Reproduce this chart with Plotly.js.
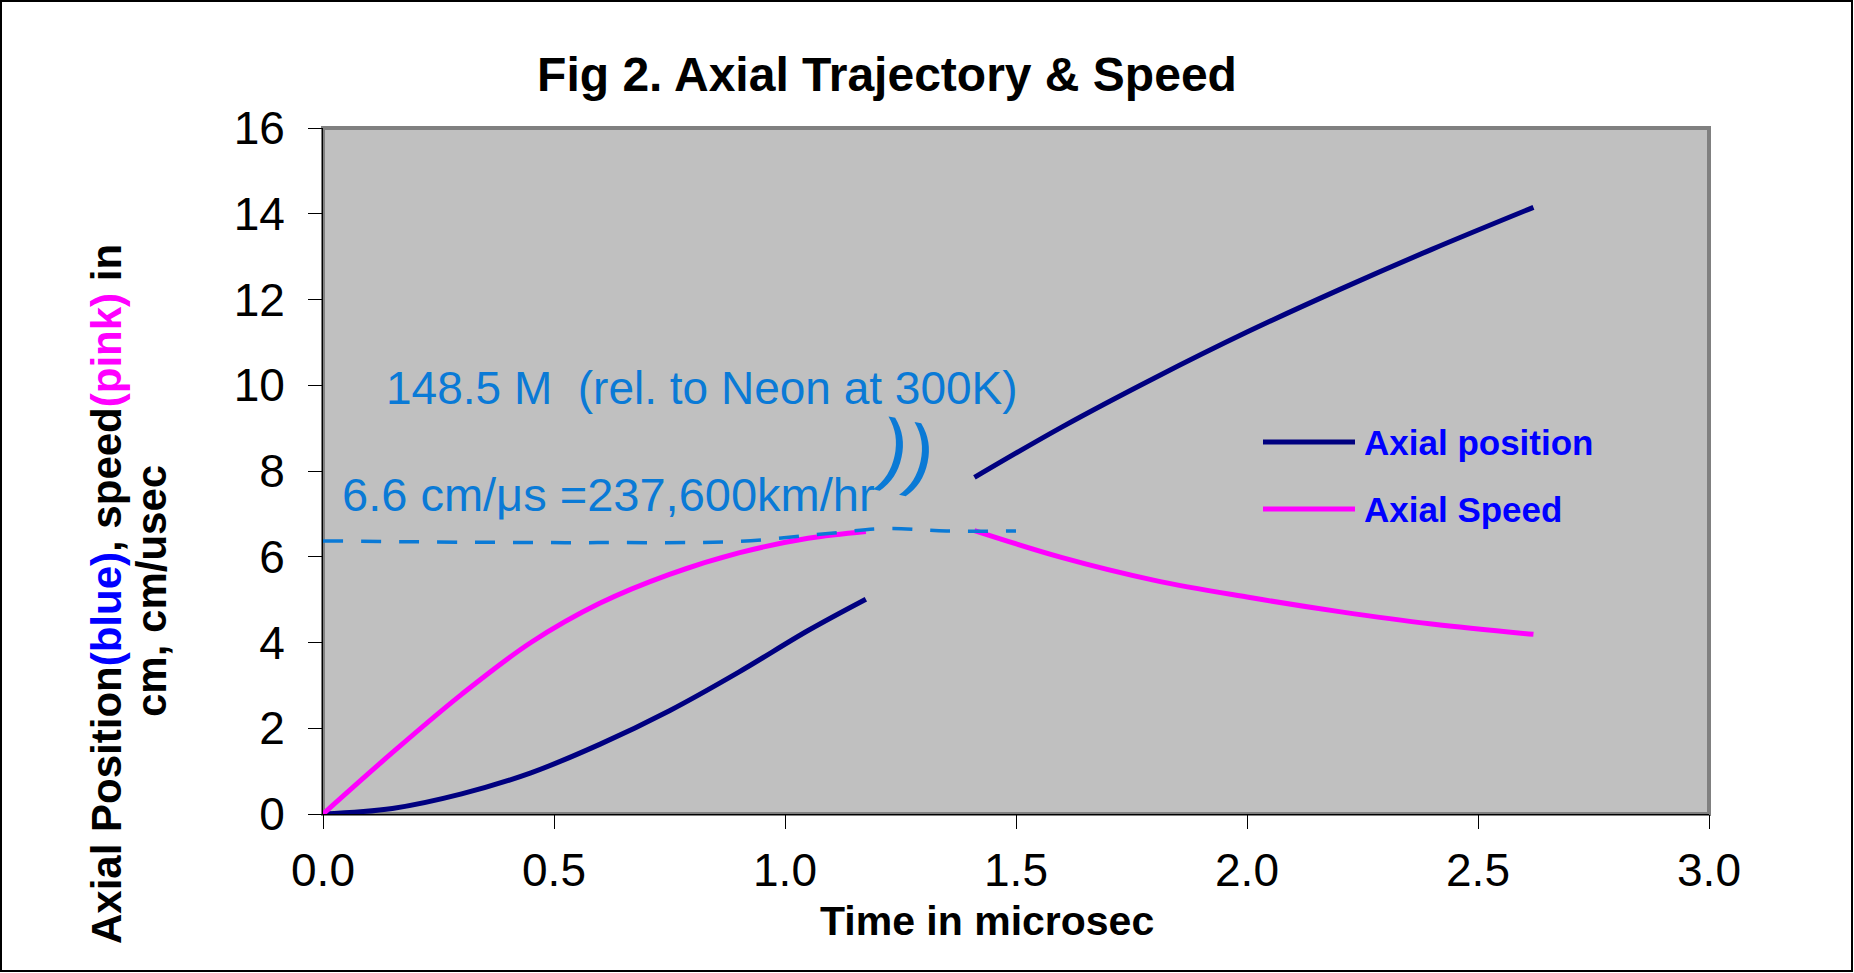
<!DOCTYPE html>
<html>
<head>
<meta charset="utf-8">
<script src="https://cdn.plot.ly/plotly-3.0.1.min.js"></script>
<style>
  body { margin: 0; background: #fff; }
  #fig2 { width: 1854px; height: 973px; }
</style>
</head>
<body>
<div id="fig2"></div>
<script>
// values (time in microsec, cm and cm/usec)
var timeA  = [0, 0.15, 0.3, 0.45, 0.6, 0.75, 0.9, 1.05, 1.175];
var posA   = [0, 0.13, 0.47, 0.96, 1.63, 2.41, 3.31, 4.28, 5.01];
var speedA = [0, 1.43, 2.79, 4.0, 4.92, 5.59, 6.09, 6.43, 6.59];

var timeB  = [1.41, 1.6, 1.8, 2.0, 2.2, 2.4, 2.62];
var posB   = [7.85, 9.03, 10.17, 11.24, 12.23, 13.17, 14.15];
var speedB = [6.61, 5.98, 5.45, 5.06, 4.72, 4.43, 4.19];

// hand drawn dashed mark at ~6.6 cm/usec
var inkT = [0, 0.3, 0.6, 0.9, 1.1, 1.22, 1.35, 1.5];
var inkV = [6.37, 6.34, 6.33, 6.36, 6.55, 6.66, 6.6, 6.6];

var seriesNames = ['Axial position', 'Axial Speed'];
var inkNotes = ['148.5 M  (rel. to Neon at 300K)', '6.6 cm/\u03bcs =237,600km/hr', '))'];

var xTicks = [0, 0.5, 1.0, 1.5, 2.0, 2.5, 3.0];
var yTicks = [0, 2, 4, 6, 8, 10, 12, 14, 16];

var navy = '#000080', pink = '#FF00FF', ink = '#0A7AD6';
var arial = 'Liberation Sans, Arial, sans-serif';

function segTrace(x, y, name, color) {
  return {
    x: x, y: y, name: name, type: 'scatter', mode: 'lines',
    line: {color: color, width: 5, shape: 'spline', smoothing: 1}
  };
}

var traces = [
  segTrace(timeA, posA, seriesNames[0], navy),
  segTrace(timeB, posB, seriesNames[0], navy),
  segTrace(timeA, speedA, seriesNames[1], pink),
  segTrace(timeB, speedB, seriesNames[1], pink),
  {
    x: inkT, y: inkV, type: 'scatter', mode: 'lines',
    line: {color: ink, width: 3.5, dash: '20px,18px', shape: 'spline'}
  }
];

// plot area is 323..1709 x 128..814 px
function px(X) { return (X - 323) / 1386; }
function py(Y) { return (814 - Y) / 686; }

function note(text, X, Y, size, color, extra) {
  var a = {text: text, xref: 'paper', yref: 'paper', x: px(X), y: py(Y),
           xanchor: 'center', yanchor: 'middle', showarrow: false,
           font: {family: arial, size: size, color: color}};
  for (var k in extra) a[k] = extra[k];
  return a;
}

var layout = {
  width: 1854, height: 973,
  margin: {l: 323, r: 145, t: 128, b: 159},
  paper_bgcolor: '#fff', plot_bgcolor: '#C0C0C0',
  showlegend: false,
  title: {
    text: 'Fig 2. Axial Trajectory & Speed',
    font: {family: arial, size: 48, weight: 'bold', color: '#000'},
    x: 887 / 1854, xref: 'container', xanchor: 'center',
    y: 1 - 74 / 973, yref: 'container', yanchor: 'middle'
  },
  xaxis: {
    range: [0, 3], tickvals: xTicks, ticktext: xTicks.map(function (v) { return v.toFixed(1); }),
    showgrid: false, zeroline: false, showline: true, linecolor: '#000', linewidth: 1,
    ticks: 'outside', ticklen: 14, tickcolor: '#000', ticklabelstandoff: 2,
    tickfont: {family: arial, size: 46, color: '#000'}
  },
  yaxis: {
    range: [0, 16], tickvals: yTicks,
    showgrid: false, zeroline: false, showline: true, linecolor: '#000', linewidth: 1,
    ticks: 'outside', ticklen: 14, tickcolor: '#000', ticklabelstandoff: 14,
    tickfont: {family: arial, size: 46, color: '#000'}
  },
  shapes: [
    {type: 'rect', xref: 'paper', yref: 'paper', x0: 0, x1: 1, y0: 0, y1: 1,
     line: {color: '#808080', width: 4}, layer: 'below'},
    {type: 'rect', xref: 'paper', yref: 'paper', x0: px(1), x1: px(1852), y0: py(971), y1: py(1),
     line: {color: '#000', width: 2}},
    {type: 'line', xref: 'paper', yref: 'paper', x0: px(1263), x1: px(1355), y0: py(442), y1: py(442),
     line: {color: navy, width: 5}},
    {type: 'line', xref: 'paper', yref: 'paper', x0: px(1263), x1: px(1355), y0: py(509), y1: py(509),
     line: {color: pink, width: 5}}
  ],
  annotations: [
    note('<b>' + seriesNames[0] + '</b>', 1362, 442, 35, '#0000FF', {xanchor: 'left'}),
    note('<b>' + seriesNames[1] + '</b>', 1362, 509, 35, '#0000FF', {xanchor: 'left'}),
    note('<b>Time in microsec</b>', 987, 921, 41, '#000'),
    note('<b>Axial Position<span style="color:#0000FF">(blue)</span>, speed<span style="color:#FF00FF">(pink)</span> in</b>',
         106, 594, 42, '#000', {textangle: -90}),
    note('<b>cm, cm/usec</b>', 151, 591, 42, '#000', {textangle: -90}),
    note(inkNotes[0], 702, 388, 46, ink),
    note(inkNotes[1], 608, 494, 47, ink),
    note(inkNotes[2], 907, 452, 80, ink, {textangle: 12})
  ]
};

Plotly.newPlot('fig2', traces, layout, {staticPlot: true});
</script>
</body>
</html>
